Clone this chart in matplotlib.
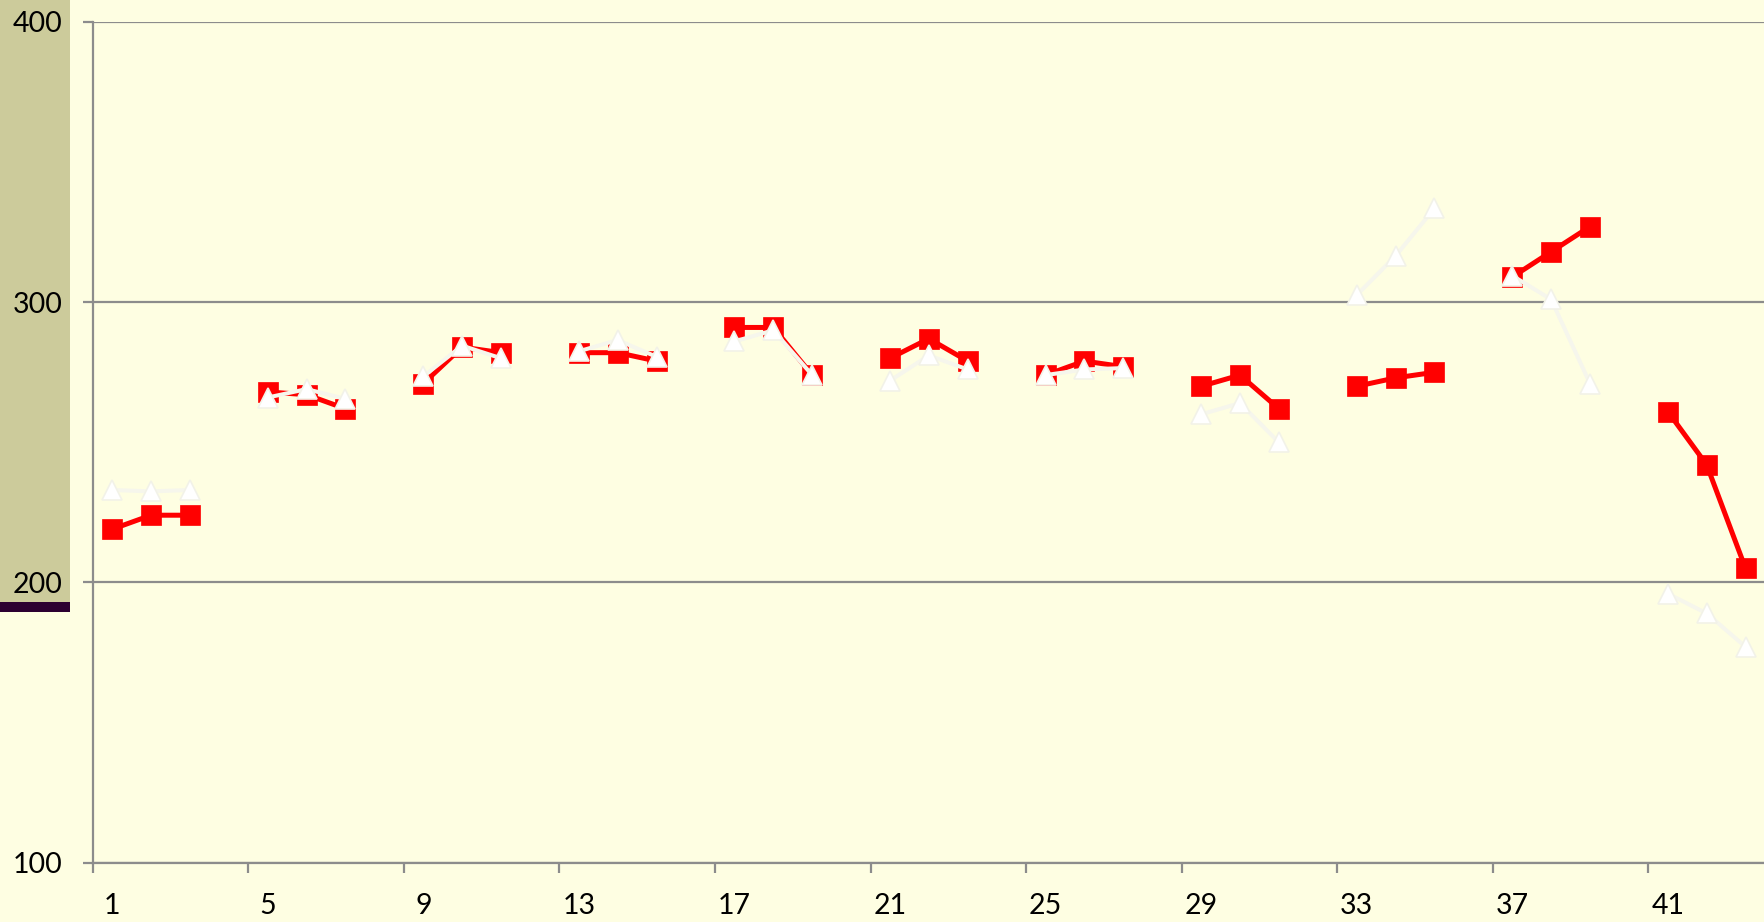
import numpy as np
import matplotlib
matplotlib.use("Agg")
import matplotlib.pyplot as plt
from matplotlib.patches import Rectangle

plt.rcParams['font.family'] = ['Lato', 'DejaVu Sans']

nan = np.nan
categories = list(range(1, 44))
red_values = [219, 224, 224, nan,
              268, 267, 262, nan,
              271, 284, 282, nan,
              282, 282, 279, nan,
              291, 291, 274, nan,
              280, 287, 279, nan,
              274, 279, 277, nan,
              270, 274, 262, nan,
              270, 273, 275, nan,
              309, 318, 327, nan,
              261, 242, 205]
white_values = [233, 232.5, 233, nan,
                266, 269, 265.5, nan,
                273.5, 284.5, 280, nan,
                282.5, 286.5, 280.5, nan,
                286, 290, 274, nan,
                272, 281, 276, nan,
                274, 276, 276.5, nan,
                260, 264, 250, nan,
                302.5, 316.5, 333.5, nan,
                309.5, 301, 271, nan,
                196, 189, 177]
y_ticks = [100, 200, 300, 400]
x_labels = [1, 5, 9, 13, 17, 21, 25, 29, 33, 37, 41]

W, H = 1765, 922
fig = plt.figure(figsize=(W / 100, H / 100), dpi=100)
bg = '#FEFEE2'
fig.patch.set_facecolor(bg)

# decorative band on left
fig.patches.append(Rectangle((0, 1 - 602 / H), 70 / W, 602 / H, transform=fig.transFigure,
                             facecolor='#CCCB9B', edgecolor='none', zorder=-2))
fig.patches.append(Rectangle((0, 1 - 612 / H), 70 / W, 10 / H, transform=fig.transFigure,
                             facecolor='#2C0030', edgecolor='none', zorder=-2))

ax = fig.add_axes([92.7 / W, 1 - 862.7 / H, 1 - 92.7 / W, (862.7 - 22) / H])
ax.set_zorder(1)
ax.set_facecolor('none')

x = np.array(categories, dtype=float)
ax.plot(x, red_values, color='#FF0000', lw=3.6, marker='s', ms=14.3,
        mfc='#FF0000', mec='#FF0000', mew=0.5, zorder=3, solid_joinstyle='miter')
ax.plot(x, white_values, color='#F6F6EC', lw=2.9, marker='^', ms=14.5,
        mfc='#FFFFFF', mec='#F2F2E8', mew=1.2, zorder=4)

ax.set_xlim(0.5, 43.5)
ax.set_ylim(100, 400)
ax.set_yticks(y_ticks)
ax.set_yticklabels([str(v) for v in y_ticks])
ax.grid(axis='y', color='#8C8C8C', lw=1.6, zorder=1)
ax.set_axisbelow(True)

ax.set_xticks(x_labels)
ax.set_xticklabels([str(v) for v in x_labels])
ax.set_xticks(np.arange(0.5, 43.6, 4), minor=True)
ax.tick_params(axis='x', which='major', length=0, pad=22, labelsize=20.5, colors='#000000')
ax.tick_params(axis='x', which='minor', length=7, width=1.6, color='#8C8C8C', direction='out')
ax.tick_params(axis='y', which='major', length=7, width=1.6, color='#8C8C8C', pad=15,
               labelsize=20.5, labelcolor='#000000')

for s in ['top', 'right']:
    ax.spines[s].set_visible(False)
for s in ['left', 'bottom']:
    ax.spines[s].set_color('#8C8C8C')
    ax.spines[s].set_linewidth(1.6)

fig.savefig('out.png', dpi=100, facecolor=bg)
